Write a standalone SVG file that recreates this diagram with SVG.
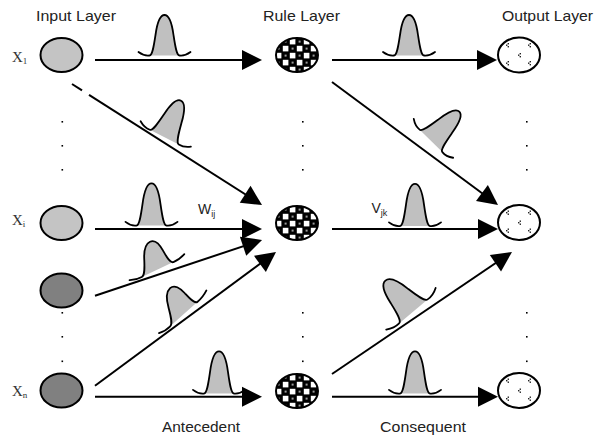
<svg xmlns="http://www.w3.org/2000/svg" xmlns:xlink="http://www.w3.org/1999/xlink" width="594" height="439" viewBox="0 0 594 439">
<style>
.t{font-family:"Liberation Sans",Arial,sans-serif;font-size:15px;fill:#222}
.x{font-family:"Liberation Serif","Times New Roman",serif;font-size:15px;fill:#333}
.sub{font-size:9px}
.lbl{font-family:"Liberation Sans",Arial,sans-serif;font-size:14px;fill:#222}
.c{stroke:#000;stroke-width:2;fill:none}
.ca{stroke:#000;stroke-width:2;fill:none;marker-end:url(#ah)}
.node{stroke:#000;stroke-width:2}
.in{fill:#c4c4c4}
.dk{fill:#808080}
.rule{fill:url(#checker)}
.out{fill:#fff}
.dot{fill:#000}
.gf{fill:#c0c0c0;stroke:none}
.gs{fill:none;stroke:#000;stroke-width:1.8;vector-effect:non-scaling-stroke;stroke-linecap:round}
</style>
<defs>
<marker id="ah" markerUnits="userSpaceOnUse" markerWidth="20" markerHeight="20" refX="17" refY="10" orient="auto" overflow="visible">
<path d="M0,0 L20,10 L0,20 Z" fill="#000"/>
</marker>
<pattern id="checker" patternUnits="userSpaceOnUse" x="2" y="3" width="14" height="14">
<rect width="14" height="14" fill="#000"/>
<rect x="0.8" y="0.8" width="5.6" height="5.6" fill="#fff"/>
<rect x="7.8" y="7.8" width="5.6" height="5.6" fill="#fff"/>
<rect x="2.6" y="9.6" width="2" height="2" fill="#999"/>
<rect x="9.6" y="2.6" width="2" height="2" fill="#999"/>
</pattern>
<g id="speck">
<rect x="-0.4" y="-2" width="1.4" height="1.4" fill="#222"/>
<rect x="-2" y="-0.5" width="1.4" height="1.4" fill="#222"/>
<rect x="-0.4" y="1" width="1.4" height="1.4" fill="#222"/>
</g>
<g id="specks">
<use xlink:href="#speck" x="-11" y="-10"/>
<use xlink:href="#speck" x="11" y="-10"/>
<use xlink:href="#speck" x="1" y="0"/>
<use xlink:href="#speck" x="-11" y="8"/>
<use xlink:href="#speck" x="11" y="8"/>
</g>
<g id="gauss">
<path class="gf" d="M-15,0.5 C-12,0.5 -10.5,-10 -9,-20 C-7.5,-31 -4.5,-40 0,-40 C4.5,-40 7.5,-31 9,-20 C10.5,-10 12,0.5 15,0.5 Z"/>
<path class="gs" d="M-26,-3 C-22,0 -19,1 -15,0.5 C-12,0.5 -10.5,-10 -9,-20 C-7.5,-31 -4.5,-40 0,-40 C4.5,-40 7.5,-31 9,-20 C10.5,-10 12,0.5 15,0.5 C19,1 22,0 26,-3"/>
</g>
</defs>

<rect width="594" height="439" fill="#fff"/>

<g id="titles">
<text class="t" x="36" y="21" textLength="80" lengthAdjust="spacingAndGlyphs">Input Layer</text>
<text class="t" x="263" y="21" textLength="77" lengthAdjust="spacingAndGlyphs">Rule Layer</text>
<text class="t" x="502" y="21" textLength="91" lengthAdjust="spacingAndGlyphs">Output Layer</text>
<text class="t" x="162" y="432" textLength="78" lengthAdjust="spacingAndGlyphs">Antecedent</text>
<text class="t" x="380" y="432" textLength="86" lengthAdjust="spacingAndGlyphs">Consequent</text>
</g>

<g id="connectors">
<line class="ca" x1="95" y1="60" x2="259" y2="60"/>
<line class="ca" x1="332" y1="60" x2="494" y2="60"/>
<line class="c" x1="72" y1="84" x2="82" y2="90.4"/>
<line class="ca" x1="89" y1="94.9" x2="259.5" y2="203.4"/>
<line class="ca" x1="332" y1="82" x2="495.6" y2="203.2"/>
<line class="ca" x1="95" y1="229" x2="259" y2="229"/>
<line class="ca" x1="95" y1="295.7" x2="259.2" y2="240.9"/>
<line class="ca" x1="95" y1="385.7" x2="273.6" y2="253.8"/>
<line class="ca" x1="95" y1="396.7" x2="259" y2="396.7"/>
<line class="ca" x1="332" y1="229" x2="495" y2="229"/>
<line class="ca" x1="332" y1="374" x2="509.5" y2="253.7"/>
<line class="ca" x1="332" y1="396.7" x2="495" y2="396.7"/>
</g>

<g id="membership-functions">
<use xlink:href="#gauss" transform="translate(164.5,55)"/>
<use xlink:href="#gauss" transform="translate(409,55)"/>
<use xlink:href="#gauss" transform="translate(151.5,225) scale(1,1.04)"/>
<use xlink:href="#gauss" transform="translate(415,225.5) scale(1,1.04)"/>
<use xlink:href="#gauss" transform="translate(219,393) scale(1,1.04)"/>
<use xlink:href="#gauss" transform="translate(415,393) scale(1,1.04)"/>
<use xlink:href="#gauss" transform="matrix(0.967 0.49 -0.4125 0.899 164.5 136.65)"/>
<use xlink:href="#gauss" transform="matrix(1.053 -0.5 0.1875 0.6875 157.5 269.2)"/>
<use xlink:href="#gauss" transform="matrix(0.913 -0.82 0.34 0.64 183.7 313.7)"/>
<use xlink:href="#gauss" transform="matrix(0.757 0.747 -0.699 0.72 431.35 140.5)"/>
<use xlink:href="#gauss" transform="matrix(0.95 -0.8 0.69 0.76 413 311)"/>
</g>

<g id="weight-labels">
<text class="lbl" x="198" y="214">W<tspan class="sub" dy="3">ij</tspan></text>
<text class="lbl" x="371.5" y="213">V<tspan class="sub" dy="3">jk</tspan></text>
</g>

<g id="input-x1">
<ellipse class="node in" cx="61.5" cy="55" rx="21" ry="17"/>
<text class="x" x="12" y="62">X<tspan class="sub" dy="2">1</tspan></text>
</g>
<g id="input-xi">
<ellipse class="node in" cx="61.5" cy="223" rx="21" ry="17"/>
<text class="x" x="12" y="225">X<tspan class="sub" dy="2">i</tspan></text>
</g>
<g id="input-extra">
<ellipse class="node dk" cx="61.5" cy="290.5" rx="21" ry="17"/>
</g>
<g id="input-xn">
<ellipse class="node dk" cx="61.5" cy="390.5" rx="21" ry="17"/>
<text class="x" x="12" y="396">X<tspan class="sub" dy="2">n</tspan></text>
</g>

<g id="rule-1"><ellipse class="node rule" cx="297" cy="55" rx="21" ry="17"/></g>
<g id="rule-j"><ellipse class="node rule" cx="297" cy="223" rx="21" ry="17"/></g>
<g id="rule-m"><ellipse class="node rule" cx="297" cy="391" rx="21" ry="17"/></g>

<g id="output-1"><ellipse class="node out" cx="519" cy="55" rx="21" ry="17.5"/><use xlink:href="#specks" x="519" y="55"/></g>
<g id="output-k"><ellipse class="node out" cx="519" cy="222.5" rx="21" ry="17.5"/><use xlink:href="#specks" x="519" y="222.5"/></g>
<g id="output-p"><ellipse class="node out" cx="519" cy="390.5" rx="21" ry="17.5"/><use xlink:href="#specks" x="519" y="390.5"/></g>

<g id="ellipsis-dots">
<rect class="dot" x="61.5" y="121" width="1.6" height="1.6"/>
<rect class="dot" x="61.5" y="145" width="1.6" height="1.6"/>
<rect class="dot" x="61.5" y="169" width="1.6" height="1.6"/>
<rect class="dot" x="61.5" y="312" width="1.6" height="1.6"/>
<rect class="dot" x="61.5" y="336" width="1.6" height="1.6"/>
<rect class="dot" x="61.5" y="360.5" width="1.6" height="1.6"/>
<rect class="dot" x="302" y="121" width="1.6" height="1.6"/>
<rect class="dot" x="302" y="145" width="1.6" height="1.6"/>
<rect class="dot" x="302" y="169" width="1.6" height="1.6"/>
<rect class="dot" x="302" y="312" width="1.6" height="1.6"/>
<rect class="dot" x="302" y="336" width="1.6" height="1.6"/>
<rect class="dot" x="302" y="360.5" width="1.6" height="1.6"/>
<rect class="dot" x="526" y="121" width="1.6" height="1.6"/>
<rect class="dot" x="526" y="145" width="1.6" height="1.6"/>
<rect class="dot" x="526" y="169" width="1.6" height="1.6"/>
<rect class="dot" x="526" y="312" width="1.6" height="1.6"/>
<rect class="dot" x="526" y="336" width="1.6" height="1.6"/>
<rect class="dot" x="526" y="360.5" width="1.6" height="1.6"/>
</g>
</svg>
